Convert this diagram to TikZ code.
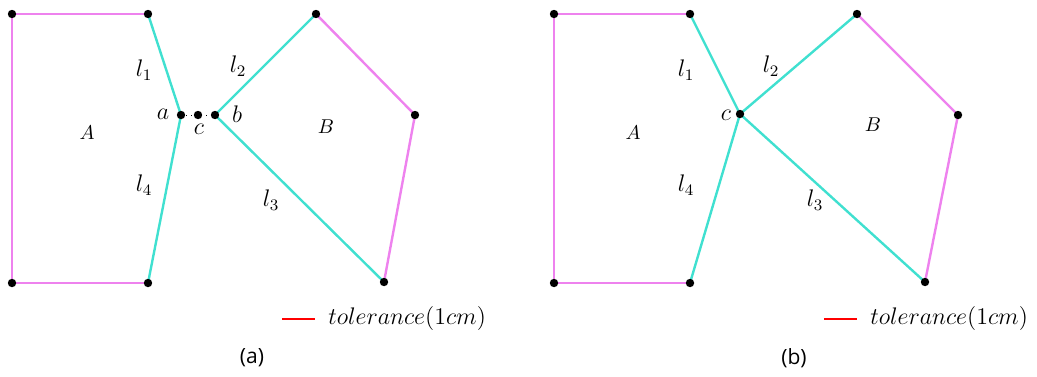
\documentclass[tikz,border=0pt]{standalone}
\usepackage{fontspec}
\newfontfamily\capfont{Open Sans}
\definecolor{mag}{HTML}{EE82EE}
\definecolor{cya}{HTML}{40E0D0}
\begin{document}
\begin{tikzpicture}[x=0.5pt,y=-0.5pt,
  pt/.style={circle,fill=black,inner sep=0pt,minimum size=4.2pt},
  magline/.style={draw=mag,line width=1.2pt},
  cyaline/.style={draw=cya,line width=1.2pt},
  lab/.style={font=\fontsize{12}{14}\selectfont},
  big/.style={font=\fontsize{10}{12}\selectfont},
  captext/.style={font=\capfont\fontsize{10.5}{12}\selectfont}]
\useasboundingbox (0,0) rectangle (1037,376);
% ---------- (a)
\coordinate (a1) at (12,14);
\coordinate (a2) at (148,14);
\coordinate (a4) at (148,283);
\coordinate (a5) at (12,283);
\coordinate (pa) at (181,115);
\coordinate (pc) at (198,115);
\coordinate (pb) at (215,115);
\coordinate (b1) at (316,14);
\coordinate (b2) at (415,115);
\coordinate (b3) at (384,282);
\draw[magline] (a4) -- (a5) -- (a1) -- (a2);
\draw[cyaline] (a2) -- (pa) -- (a4);
\draw[cyaline] (b1) -- (pb) -- (b3);
\draw[magline] (b1) -- (b2) -- (b3);
\draw[dotted,line width=0.5pt] (pa) -- (pb);
\foreach \p in {a1,a2,a4,a5,pa,pc,pb,b1,b2,b3} \node[pt] at (\p) {};
\node[lab] (la1) at (144,70) {$l_1$};
\node[lab] (la2) at (238,66) {$l_2$};
\node[lab] (la4) at (144,185) {$l_4$};
\node[lab] (la3) at (271,200) {$l_3$};
\node[lab] (lta) at (163,114) {$a$};
\node[lab] (ltc) at (199,129) {$c$};
\node[lab] (ltb) at (237,114) {$b$};
\node[big] (lA) at (87,133) {$A$};
\node[big] (lB) at (326,127) {$B$};
\coordinate (ra1) at (282,319);
\coordinate (ra2) at (315,319);
\draw[red,line width=0.8pt] (ra1) -- (ra2);
\node[lab,anchor=west,inner sep=0pt] (ta) at (328,318) {$tolerance(1cm)$};
\node[captext] (capa) at (252,358) {(a)};
% ---------- (b)
\coordinate (c1) at (554,14);
\coordinate (c2) at (690,14);
\coordinate (c4) at (690,283);
\coordinate (c5) at (554,283);
\coordinate (qc) at (740,114);
\coordinate (d1) at (857,14);
\coordinate (d2) at (958,115);
\coordinate (d3) at (925,282);
\draw[magline] (c4) -- (c5) -- (c1) -- (c2);
\draw[cyaline] (c2) -- (qc) -- (c4);
\draw[cyaline] (d1) -- (qc) -- (d3);
\draw[magline] (d1) -- (d2) -- (d3);
\foreach \p in {c1,c2,c4,c5,qc,d1,d2,d3} \node[pt] at (\p) {};
\node[lab] (lb1) at (686,70) {$l_1$};
\node[lab] (lb2) at (771,66) {$l_2$};
\node[lab] (lb4) at (686,185) {$l_4$};
\node[lab] (lb3) at (815,200) {$l_3$};
\node[lab] (ltc2) at (726,115) {$c$};
\node[big] (lA2) at (633,133) {$A$};
\node[big] (lB2) at (873,125) {$B$};
\coordinate (rb1) at (824,319);
\coordinate (rb2) at (857,319);
\draw[red,line width=0.8pt] (rb1) -- (rb2);
\node[lab,anchor=west,inner sep=0pt] (tb) at (870,318) {$tolerance(1cm)$};
\node[captext] (capb) at (794,358) {(b)};
\end{tikzpicture}
\end{document}
